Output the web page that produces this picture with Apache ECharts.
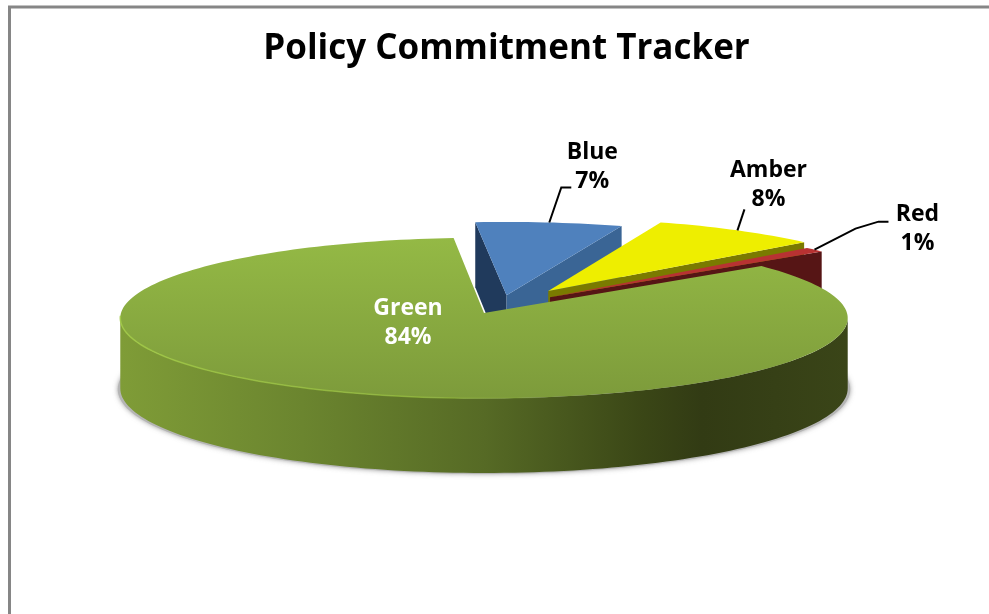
<!DOCTYPE html>
<html>
<head>
<meta charset="utf-8">
<style>html,body{margin:0;padding:0;background:#fff}#chart{width:989px;height:614px}</style>
<script src="https://cdn.jsdelivr.net/npm/echarts@6/dist/echarts.min.js"></script>
</head>
<body>
<div id="chart"></div>
<script>
// Commitment status shares, clockwise from the top of the pie.
const categories = ['Blue', 'Amber', 'Red', 'Green'];
const shares = [7, 8, 1, 84];
const chartTitle = 'Policy Commitment Tracker';

// Projection of the tilted disc: unit-circle coordinates to pixels, with mild foreshortening.
const disc = { cx: 484, cy: 313, rx: 363, ry: 80, depth: 70, persp: 0.0625, startAngle: 95.1 };

// Slice appearance, exploded offsets (unit-circle) and label placement relative to the rim.
const sliceStyle = {
  Blue: { top: '#4f81bd', face: '#3a6595', inner: '#203a5c', offset: [0.063, 0.226],
    label: [43, -56], leader: [[12, -35], [22, -35]], text: '#000' },
  Amber: { top: '#eeee00', face: '#7a7a00', offset: [0.18, 0.28],
    label: [31, -45], leader: [[7, -21]], text: '#000' },
  Red: { top: '#b83232', face: '#561515', offset: [0.184, 0.2],
    label: [103, -21], leader: [[41, -21], [64, -28], [74, -28]], text: '#000' },
  Green: { offset: [0, 0], text: '#fff', labelAt: [408, 323] }
};

const total = shares.reduce((a, b) => a + b, 0);

function sliceAngles(index) {
  const before = shares.slice(0, index).reduce((a, b) => a + b, 0);
  const start = disc.startAngle - before / total * 360;
  return [start, start - shares[index] / total * 360];
}

function project(u, v, drop) {
  const w = 1 + disc.persp * v;
  return [disc.cx + disc.rx * u / w, disc.cy - disc.ry * v / w + (drop ? disc.depth / w : 0)];
}

function rimPoint(offset, deg, drop) {
  const a = deg * Math.PI / 180;
  return project(offset[0] + Math.cos(a), offset[1] + Math.sin(a), drop);
}

function arc(offset, from, to, drop) {
  const pts = [];
  const steps = Math.max(2, Math.ceil(Math.abs(to - from) / 1.5));
  for (let i = 0; i <= steps; i++) pts.push(rimPoint(offset, from + (to - from) * i / steps, drop));
  return pts;
}

function face(offset, deg) {
  return [project(offset[0], offset[1], false), rimPoint(offset, deg, false),
    rimPoint(offset, deg, true), project(offset[0], offset[1], true)];
}

function poly(points, style) {
  return { type: 'polygon', shape: { points }, style };
}

function renderSlice(params, api) {
  const idx = api.value(0);
  const name = categories[idx];
  const s = sliceStyle[name];
  const [start, end] = sliceAngles(idx);
  const apex = project(s.offset[0], s.offset[1], false);
  const children = [];

  if (name === 'Green') {
    // Soft ground shadow along the front of the base, hidden behind the wall elsewhere.
    children.push({
      type: 'polygon',
      shape: { points: arc([0, 0], -195, 15, true).map(p => [disc.cx + (p[0] - disc.cx) * 1.007, p[1] + 1]) },
      style: { fill: '#b5b5b5', shadowBlur: 5, shadowColor: 'rgba(120,120,120,0.7)' }
    });
    // Front wall between the two silhouette points.
    const tangent = Math.asin(disc.persp) * 180 / Math.PI;
    const wall = arc([0, 0], -180 + tangent, -tangent, false)
      .concat(arc([0, 0], -tangent, -180 + tangent, true));
    children.push(poly(wall, {
      fill: new echarts.graphic.LinearGradient(0, 0, 1, 0, [
        { offset: 0, color: '#7f9c37' },
        { offset: 0.25, color: '#6b852f' },
        { offset: 0.5, color: '#566a25' },
        { offset: 0.72, color: '#3a4616' },
        { offset: 0.8, color: '#323b14' },
        { offset: 1, color: '#3a4518' }
      ])
    }));
    children.push(poly([apex].concat(arc(s.offset, start, end, false)), {
      fill: new echarts.graphic.LinearGradient(0, 0, 0, 1, [
        { offset: 0, color: '#94b945' },
        { offset: 1, color: '#7d9b3b' }
      ])
    }));
    // Light bevel along the front-left rim.
    children.push({
      type: 'polyline',
      shape: { points: arc([0, 0], -178, -80, false) },
      style: {
        fill: null, lineWidth: 1.5,
        stroke: new echarts.graphic.LinearGradient(0, 0, 1, 0, [
          { offset: 0, color: 'rgba(160,200,70,0.9)' },
          { offset: 0.7, color: 'rgba(150,190,60,0.7)' },
          { offset: 1, color: 'rgba(150,190,60,0)' }
        ])
      }
    });
  } else {
    if (s.inner) children.push(poly(face(s.offset, start), { fill: s.inner }));
    children.push(poly(face(s.offset, end), { fill: s.face }));
    children.push(poly([apex].concat(arc(s.offset, start, end, false)), { fill: s.top }));
  }
  return { type: 'group', children };
}

function renderLabel(params, api) {
  const idx = api.value(0);
  const name = categories[idx];
  const s = sliceStyle[name];
  const [start, end] = sliceAngles(idx);
  const text = name + '\n' + api.value(1) + '%';
  const textStyle = {
    text, fill: s.text, align: 'center', verticalAlign: 'middle',
    font: 'bold 23px "Open Sans"', lineHeight: 29
  };
  if (s.labelAt) {
    return { type: 'text', style: Object.assign({ x: s.labelAt[0], y: s.labelAt[1] }, textStyle) };
  }
  const anchor = rimPoint(s.offset, (start + end) / 2, false);
  const line = [anchor].concat(s.leader.map(d => [anchor[0] + d[0], anchor[1] + d[1]]));
  return {
    type: 'group',
    children: [
      { type: 'polyline', shape: { points: line }, style: { fill: null, stroke: '#000', lineWidth: 2 } },
      { type: 'text', style: Object.assign({ x: anchor[0] + s.label[0], y: anchor[1] + s.label[1] }, textStyle) }
    ]
  };
}

const rows = categories.map((c, i) => [i, shares[i]]);
const chart = echarts.init(document.getElementById('chart'), null, { renderer: 'canvas' });
chart.setOption({
  animation: false,
  backgroundColor: '#fff',
  title: {
    text: chartTitle, left: 501.5, top: 27, textAlign: 'center',
    textStyle: { fontFamily: 'Open Sans', fontWeight: 'bold', fontSize: 35, color: '#000' }
  },
  graphic: [{
    type: 'polyline', silent: true,
    shape: { points: [[989, 7], [9.5, 7], [9.5, 614]] },
    style: { fill: null, stroke: '#868686', lineWidth: 3 }
  }],
  series: [
    { type: 'custom', coordinateSystem: 'none', renderItem: renderSlice, data: rows, silent: true },
    { type: 'custom', coordinateSystem: 'none', renderItem: renderLabel, data: rows, silent: true, z: 5 }
  ]
});
</script>
</body>
</html>
